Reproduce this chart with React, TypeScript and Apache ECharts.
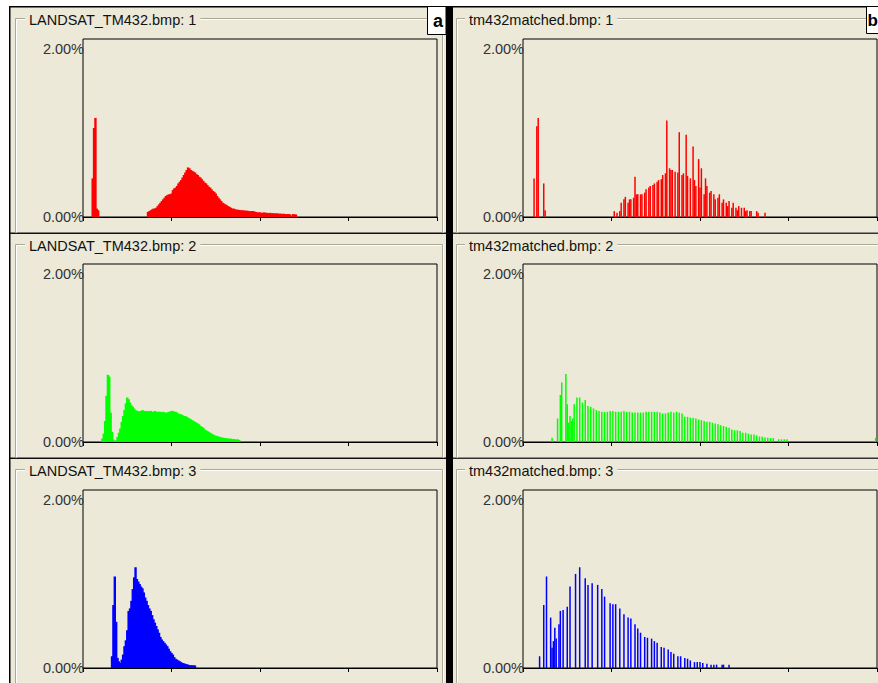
import React, { useEffect, useRef } from "react";
import * as echarts from "echarts";

// ---------- data: percent of pixels per grey-level bin (0..255) ----------
// Panel 1: LANDSAT_TM432.bmp: 1 (red, original)
const redOrigSpikeStart = 7;
const redOrigSpike = [0.46, 1.06, 1.18, 0.1, 0.08];
const redOrigMainStart = 47;
const redOrigMain = [
  0.06, 0.07, 0.08, 0.09, 0.10, 0.10, 0.11, 0.13, 0.15, 0.17,
  0.19, 0.21, 0.23, 0.25, 0.26, 0.27, 0.27, 0.28, 0.32, 0.34,
  0.35, 0.37, 0.40, 0.42, 0.44, 0.47, 0.50, 0.53, 0.56, 0.59,
  0.58, 0.56, 0.55, 0.54, 0.53, 0.51, 0.50, 0.48, 0.47, 0.45,
  0.43, 0.41, 0.40, 0.38, 0.36, 0.35, 0.33, 0.31, 0.30, 0.28,
  0.25, 0.23, 0.21, 0.19, 0.17, 0.16, 0.15, 0.14, 0.13, 0.12,
  0.11, 0.10, 0.10, 0.09, 0.09, 0.085, 0.085, 0.08, 0.08, 0.08,
  0.075, 0.075, 0.075, 0.07, 0.07, 0.07, 0.07, 0.065, 0.06, 0.055,
  0.055, 0.055, 0.05, 0.05, 0.055, 0.05, 0.05, 0.045, 0.05, 0.045,
  0.045, 0.045, 0.04, 0.045, 0.04, 0.04, 0.04, 0.035, 0.04, 0.035,
  0.035, 0.035, 0.035, 0.03, 0, 0.035, 0.03, 0.03,
];
// Panel 2: tm432matched.bmp: 1 (red, matched) [bin, percent]
const redMatched = [
  [8, 0.46], [10, 1.08], [11, 1.18], [15, 0.4], [16, 0.08],
  [66, 0.07], [68, 0.05], [70, 0.07], [71, 0.17], [73, 0.21], [74, 0.24], [76, 0.17], [77, 0.21],
  [78, 0.21], [80, 0.23], [81, 0.48], [82, 0.27], [83, 0.27], [85, 0.27], [86, 0.27], [88, 0.29],
  [89, 0.33], [91, 0.35], [92, 0.37], [94, 0.38], [95, 0.4], [97, 0.42], [98, 0.44], [100, 0.45],
  [101, 0.5], [103, 0.52], [104, 1.15], [106, 0.58], [107, 0.56], [108, 0.56], [110, 0.54],
  [112, 0.53], [113, 1.01], [115, 0.5], [116, 0.52], [118, 0.98], [119, 0.49], [121, 0.46],
  [123, 0.84], [124, 0.44], [125, 0.37], [127, 0.69], [128, 0.35], [129, 0.58], [131, 0.27],
  [132, 0.46], [133, 0.37], [135, 0.29], [136, 0.31], [138, 0.27], [139, 0.21], [141, 0.23],
  [142, 0.27], [144, 0.17], [145, 0.21], [147, 0.17], [148, 0.13], [149, 0.19], [151, 0.11],
  [152, 0.17], [154, 0.11], [155, 0.08], [156, 0.13], [158, 0.11], [160, 0.11], [161, 0.07],
  [162, 0.08], [164, 0.07], [165, 0.07], [169, 0.07], [170, 0.05], [175, 0.05],
];
// Panel 3: LANDSAT_TM432.bmp: 2 (green, original)
const greenOrigSpikeStart = 14;
const greenOrigSpike = [0.04, 0.1, 0.25, 0.55, 0.8, 0.78, 0.35, 0.12, 0.03];
const greenOrigMainStart = 24;
const greenOrigMain = [
  0.02, 0.06, 0.11, 0.16, 0.24, 0.31, 0.38, 0.46, 0.53, 0.51,
  0.47, 0.44, 0.42, 0.40, 0.38, 0.37, 0.37, 0.36, 0.37, 0.38,
  0.37, 0.37, 0.37, 0.36, 0.37, 0.37, 0.36, 0.36, 0.37, 0.36,
  0.36, 0.36, 0.36, 0.35, 0.36, 0.35, 0.35, 0.35, 0.36, 0.36,
  0.37, 0.37, 0.36, 0.36, 0.35, 0.34, 0.33, 0.33, 0.32, 0.31,
  0.31, 0.30, 0.29, 0.28, 0.27, 0.26, 0.25, 0.24, 0.23, 0.22,
  0.21, 0.19, 0.18, 0.17, 0.15, 0.14, 0.13, 0.12, 0.11, 0.10,
  0.09, 0.08, 0.075, 0.07, 0.065, 0.06, 0.055, 0.05, 0.05, 0.045,
  0.045, 0.04, 0.04, 0.04, 0.035, 0.035, 0.03, 0.03, 0.03, 0.025,
];
// Panel 4: tm432matched.bmp: 2 (green, matched) [bin, percent]
const greenMatched = [
  [21, 0.05], [25, 0.28], [27, 0.56], [28, 0.71], [31, 0.81], [32, 0.45], [33, 0.23], [34, 0.31],
  [35, 0.25], [36, 0.28], [37, 0.45], [39, 0.53], [41, 0.53], [43, 0.47], [45, 0.5], [47, 0.43],
  [49, 0.42], [51, 0.4], [53, 0.38], [55, 0.37], [57, 0.36], [59, 0.36], [61, 0.36], [63, 0.37],
  [65, 0.37], [67, 0.36], [69, 0.36], [71, 0.36], [73, 0.37], [75, 0.36], [77, 0.36], [79, 0.35],
  [81, 0.35], [83, 0.35], [85, 0.35], [87, 0.35], [89, 0.36], [91, 0.36], [93, 0.36], [95, 0.36],
  [97, 0.36], [99, 0.35], [101, 0.34], [103, 0.34], [105, 0.35], [107, 0.36], [109, 0.35],
  [111, 0.36], [113, 0.35], [115, 0.34], [117, 0.3], [119, 0.3], [121, 0.29], [123, 0.29],
  [125, 0.28], [127, 0.27], [129, 0.26], [131, 0.25], [133, 0.24], [135, 0.24], [137, 0.23],
  [139, 0.22], [141, 0.21], [143, 0.2], [145, 0.19], [147, 0.18], [149, 0.17], [151, 0.15],
  [153, 0.14], [155, 0.14], [157, 0.13], [159, 0.11], [161, 0.11], [163, 0.1], [165, 0.09],
  [167, 0.09], [169, 0.08], [171, 0.065], [173, 0.063], [175, 0.055], [177, 0.05], [179, 0.048],
  [181, 0.048], [185, 0.032], [187, 0.032], [189, 0.032], [191, 0.032], [255, 0.05],
];
// Panel 5: LANDSAT_TM432.bmp: 3 (blue, original)
const blueOrigStart = 21;
const blueOrig = [
  0.14, 0.75, 1.09, 0.55, 0.12, 0.08, 0.06, 0.10, 0.16, 0.26,
  0.33, 0.45, 0.68, 0.71, 0.80, 0.94, 1.08, 1.20, 1.06, 1.03,
  1.00, 0.97, 0.95, 0.90, 0.84, 0.80, 0.75, 0.71, 0.68, 0.63,
  0.58, 0.54, 0.50, 0.46, 0.42, 0.37, 0.34, 0.32, 0.30, 0.28,
  0.26, 0.23, 0.20, 0.18, 0.16, 0.13, 0.11, 0.10, 0.09, 0.08,
  0.07, 0.06, 0.055, 0.05, 0.045, 0.04, 0.035, 0.032, 0.032, 0.032,
  0.03,
];
// Panel 6: tm432matched.bmp: 3 (blue, matched) [bin, percent]
const blueMatched = [
  [12, 0.14], [15, 0.75], [17, 1.09], [20, 0.6], [21, 0.24], [22, 0.32], [23, 0.48], [24, 0.35],
  [26, 0.52], [27, 0.68], [29, 0.69], [32, 0.73], [34, 0.97], [38, 1.12], [41, 1.2], [45, 1.07],
  [47, 0.99], [50, 1.01], [54, 0.99], [57, 0.94], [59, 0.85], [63, 0.77], [65, 0.76], [67, 0.76],
  [70, 0.71], [73, 0.64], [76, 0.6], [78, 0.59], [81, 0.52], [83, 0.47], [85, 0.42], [88, 0.37],
  [90, 0.36], [93, 0.35], [95, 0.32], [97, 0.3], [100, 0.25], [102, 0.24], [105, 0.22], [107, 0.19],
  [109, 0.17], [112, 0.14], [114, 0.14], [117, 0.12], [119, 0.11], [121, 0.09], [124, 0.07],
  [126, 0.07], [128, 0.07], [130, 0.06], [133, 0.05], [136, 0.04], [138, 0.04], [140, 0.04],
  [144, 0.04], [145, 0.04], [149, 0.04],
];

const panelTitles = [
  "LANDSAT_TM432.bmp: 1",
  "tm432matched.bmp: 1",
  "LANDSAT_TM432.bmp: 2",
  "tm432matched.bmp: 2",
  "LANDSAT_TM432.bmp: 3",
  "tm432matched.bmp: 3",
];
const panelColors = ["#FF0000", "#FF0000", "#00FF00", "#00FF00", "#0000FF", "#0000FF"];
const yTickLabels: Record<number, string> = { 0: "0.00%", 2: "2.00%" };
const xMin = 0;
const xMax = 256;
const xStep = 64;
const yMax = 2.12;
const cornerLetters = ["a", "b"];

// ---------- layout / style ----------
const W = 878;
const H = 683;
const BG = "#ECE9D8";
const FONT = '"Liberation Sans", Arial, sans-serif';
const gridLefts = [83, 523];
const gridTops = [39, 264, 490];
const gridW = 354;
const gridH = 178;

const run = (start: number, vals: number[]) =>
  vals.map((v, i) => [start + i, v]).filter((d) => d[1] > 0);

export default function App() {
  const ref = useRef<HTMLDivElement>(null);

  useEffect(() => {
    if (!ref.current) return;
    const chart = echarts.init(ref.current, null, { renderer: "svg" });

    const panelData = [
      [...run(redOrigSpikeStart, redOrigSpike), ...run(redOrigMainStart, redOrigMain)],
      redMatched,
      [...run(greenOrigSpikeStart, greenOrigSpike), ...run(greenOrigMainStart, greenOrigMain)],
      greenMatched,
      run(blueOrigStart, blueOrig),
      blueMatched,
    ];

    const grids: any[] = [];
    const xAxes: any[] = [];
    const yAxes: any[] = [];
    const series: any[] = [];

    panelData.forEach((data, i) => {
      const col = i % 2;
      const row = Math.floor(i / 2);
      grids.push({
        left: gridLefts[col],
        top: gridTops[row],
        width: gridW,
        height: gridH,
        show: true,
        borderColor: "#000",
        borderWidth: 1,
        backgroundColor: "transparent",
      });
      xAxes.push({
        gridIndex: i,
        type: "value",
        min: xMin,
        max: xMax,
        interval: xStep,
        axisLine: { show: true, lineStyle: { color: "#000", width: 1 } },
        axisTick: { show: true, inside: false, length: 4, lineStyle: { color: "#000", width: 1 } },
        axisLabel: { show: false },
        splitLine: { show: false },
      });
      yAxes.push({
        gridIndex: i,
        type: "value",
        min: 0,
        max: yMax,
        interval: 2,
        axisLine: { show: false },
        axisTick: { show: false },
        splitLine: { show: false },
        axisLabel: {
          show: true,
          margin: -1,
          fontSize: 14.5,
          fontFamily: FONT,
          color: "#333",
          formatter: (v: number) => yTickLabels[v] ?? "",
        },
      });
      series.push({
        type: "bar",
        xAxisIndex: i,
        yAxisIndex: i,
        data,
        barWidth: col === 0 ? 2.4 : 1.5,
        itemStyle: { color: panelColors[i] },
        silent: true,
        z: 1,
      });
    });

    const elements: any[] = [];
    // white margins outside the window frame
    elements.push({ type: "rect", shape: { x: 0, y: 0, width: W, height: 6 }, style: { fill: "#fff" } });
    elements.push({ type: "rect", shape: { x: 0, y: 0, width: 9, height: H }, style: { fill: "#fff" } });
    // black frame
    elements.push({ type: "rect", shape: { x: 9, y: 6, width: W - 9, height: 1.5 }, style: { fill: "#000" } });
    elements.push({ type: "rect", shape: { x: 9, y: 6, width: 1.5, height: H - 6 }, style: { fill: "#000" } });
    elements.push({ type: "rect", shape: { x: 446, y: 6, width: 7, height: H - 6 }, style: { fill: "#000" } });
    // row separators
    [232.5, 457.5].forEach((y) => {
      elements.push({ type: "rect", shape: { x: 10, y, width: 436, height: 1.5 }, style: { fill: "#111" } });
      elements.push({ type: "rect", shape: { x: 453, y, width: W - 453, height: 1.5 }, style: { fill: "#333" } });
    });
    // group boxes
    const colGroup = [
      { l: 15.5, r: 442.5 },
      { l: 456.5, r: 920 },
    ];
    const rowGroup = [
      { t: 18.5, b: 232.5 },
      { t: 244.5, b: 457.5 },
      { t: 469.5, b: 683 },
    ];
    rowGroup.forEach((rg) => {
      colGroup.forEach((cg) => {
        elements.push({
          type: "polyline",
          shape: { points: [[cg.l, rg.b], [cg.l, rg.t], [cg.r, rg.t], [cg.r, rg.b]] },
          style: { stroke: "#ACA899", lineWidth: 1, fill: null },
        });
        elements.push({
          type: "polyline",
          shape: { points: [[cg.l + 1, rg.b], [cg.l + 1, rg.t + 1], [cg.r - 1, rg.t + 1]] },
          style: { stroke: "#FFFFFF", lineWidth: 1, fill: null },
        });
        elements.push({
          type: "line",
          shape: { x1: cg.r + 1, y1: rg.t, x2: cg.r + 1, y2: rg.b },
          style: { stroke: "#FFFFFF", lineWidth: 1 },
        });
      });
    });
    // titles
    const titleX = [25, 465];
    const titleY = [20, 245.7, 470.7];
    panelTitles.forEach((t, i) => {
      const col = i % 2;
      const row = Math.floor(i / 2);
      elements.push({
        type: "text",
        x: titleX[col],
        y: titleY[row],
        z: 10,
        style: {
          text: t,
          font: `14.5px ${FONT}`,
          fill: "#111",
          verticalAlign: "middle",
          align: "left",
          backgroundColor: BG,
          padding: [1, 4, 1, 4],
        },
      });
    });
    // corner letter boxes
    const boxes = [
      { x: 427.5, y: 6.5, w: 18.5, h: 28, tx: 438, anchor: "center", size: 18 },
      { x: 866.5, y: 6.5, w: 20, h: 27, tx: 877.8, anchor: "right", size: 17 },
    ];
    boxes.forEach((b, i) => {
      elements.push({
        type: "rect",
        z: 11,
        shape: { x: b.x, y: b.y, width: b.w, height: b.h },
        style: { fill: "#fff", stroke: "#000", lineWidth: 1 },
      });
      elements.push({
        type: "text",
        z: 12,
        x: b.tx,
        y: 20.5,
        style: {
          text: cornerLetters[i],
          font: `bold ${b.size}px ${FONT}`,
          fill: "#000",
          align: b.anchor,
          verticalAlign: "middle",
        },
      });
    });

    chart.setOption({
      animation: false,
      backgroundColor: BG,
      grid: grids,
      xAxis: xAxes,
      yAxis: yAxes,
      series,
      graphic: { elements },
    });

    return () => chart.dispose();
  }, []);

  return (
    <div
      ref={ref}
      style={{ position: "absolute", left: 0, top: 0, width: W, height: H }}
    />
  );
}
